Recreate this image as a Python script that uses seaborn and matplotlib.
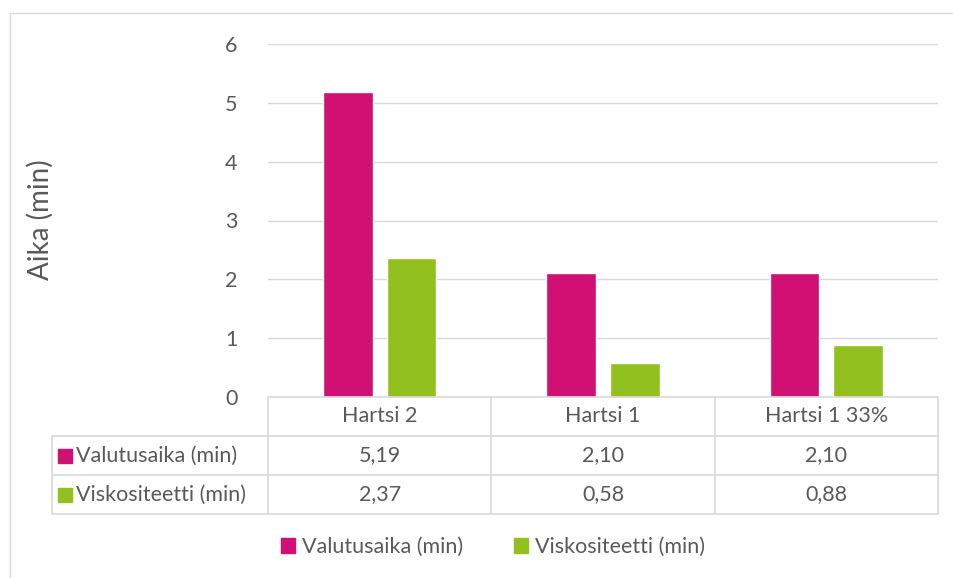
import numpy as np
import pandas as pd
import matplotlib.pyplot as plt
import seaborn as sns
from matplotlib.patches import Rectangle
from matplotlib.transforms import blended_transform_factory

# data
categories = ['Hartsi 2', 'Hartsi 1', 'Hartsi 1 33%']
series = ['Valutusaika (min)', 'Viskositeetti (min)']
valutusaika = [5.19, 2.10, 2.10]
viskositeetti = [2.37, 0.58, 0.88]
colors = ['#D01073', '#92C01E']

df = pd.DataFrame({
    'Näyte': categories * 2,
    'Sarja': [series[0]] * 3 + [series[1]] * 3,
    'Aika': valutusaika + viskositeetti,
})

sns.set_style('white')
plt.rcParams['font.family'] = ['Lato', 'DejaVu Sans']
txt = '#595959'
grid = '#D9D9D9'
fs = 15.5

fig = plt.figure(figsize=(9.54, 5.78), dpi=100)
ax = fig.add_axes([268/954, 1-397/578, 670/954, 353/578])

sns.barplot(data=df, x='Näyte', y='Aika', hue='Sarja', palette=colors,
            width=0.57, gap=0.22, ax=ax, legend=False, saturation=1)

ax.set_ylim(0, 6)
ax.set_xlim(-0.5, 2.5)
ax.set_yticks(range(7))
ax.yaxis.grid(True, color=grid, lw=1)
ax.set_axisbelow(True)
for s in ax.spines.values():
    s.set_visible(False)
ax.set_xticks([])
ax.set_xlabel('')
ax.set_ylabel('')
ax.tick_params(axis='y', length=0, pad=22, labelsize=15.5, labelcolor=txt)

# data table below the axis
row_h = 39/353
left = -216/670
tr = blended_transform_factory(ax.transData, ax.transAxes)
ln = dict(color=grid, lw=1.2, clip_on=False, transform=ax.transAxes)
ax.plot([0, 1], [0, 0], **ln)
for k in (1, 2, 3):
    ax.plot([left, 1], [-k*row_h]*2, **ln)
for xv in (0, 1/3, 2/3, 1):
    ax.plot([xv, xv], [0, -3*row_h], **ln)
ax.plot([left, left], [-row_h, -3*row_h], **ln)

for i, c in enumerate(categories):
    ax.text(i, -0.5*row_h, c, transform=tr, ha='center', va='center',
            fontsize=fs, color=txt)
for r, (name, vals) in enumerate(zip(series, [valutusaika, viskositeetti])):
    yc = -(1.5 + r)*row_h
    ax.add_patch(Rectangle((left + 6/670, yc - 7/353), 14/670, 14/353,
                           color=colors[r], transform=ax.transAxes, clip_on=False))
    ax.text(left + 24/670, yc, name, transform=ax.transAxes, ha='left',
            va='center', fontsize=fs, color=txt)
    for i, v in enumerate(vals):
        ax.text(i, yc, f'{v:.2f}'.replace('.', ','), transform=tr,
                ha='center', va='center', fontsize=fs, color=txt)

fig.text(40/954, 1-220/578, 'Aika (min)', rotation=90, ha='center',
         va='center', fontsize=20, color=txt)

handles = [Rectangle((0, 0), 1, 1, color=c) for c in colors]
fig.legend(handles, series, loc='center', bbox_to_anchor=(493/954, 1-547/578),
           ncol=2, frameon=False, handlelength=0.65, handleheight=0.65,
           handletextpad=0.3, columnspacing=2.4, fontsize=fs, labelcolor=txt)

fig.patches.append(Rectangle((10/954, -0.1), 1.1, 0.1 + 1 - 13/578, fill=False,
                             edgecolor=grid, lw=1, transform=fig.transFigure))

fig.savefig('out.png', dpi=100)
